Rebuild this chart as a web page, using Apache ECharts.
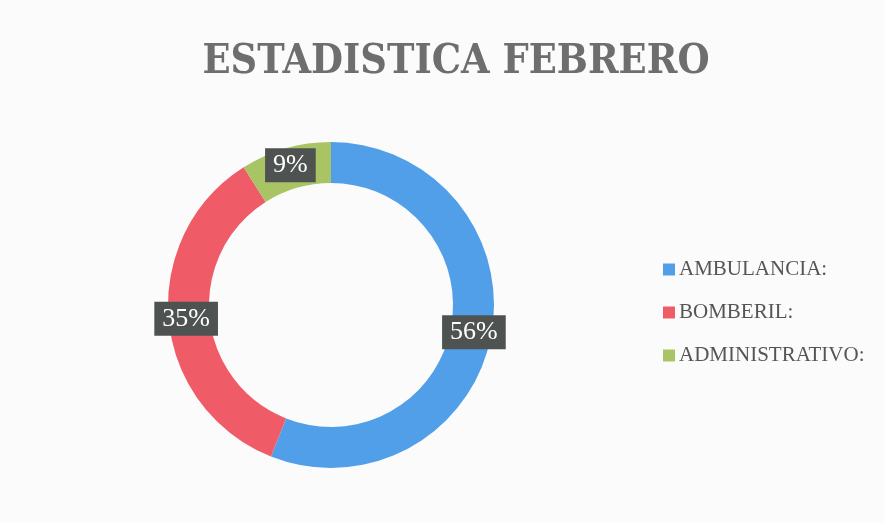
<!DOCTYPE html>
<html>
<head>
<meta charset="utf-8">
<script src="https://cdn.jsdelivr.net/npm/echarts@6/dist/echarts.min.js"></script>
<style>
  html, body { margin: 0; padding: 0; background: #fbfbfb; }
</style>
</head>
<body>
<div id="myChart" style="width:885px;height:523px;"></div>
<script>
// datos del grafico
var categories = ['AMBULANCIA:', 'BOMBERIL:', 'ADMINISTRATIVO:'];
var values = [56, 35, 9];
var colors = ['#519fe8', '#ef5c68', '#a9c464'];

var myChart = echarts.init(document.getElementById('myChart'));
myChart.setOption({
  backgroundColor: '#fbfbfb',
  color: colors,
  title: {
    text: 'ESTADISTICA FEBRERO',
    left: 451,
    top: 37,
    textAlign: 'center',
    textStyle: {
      color: '#6e6e6e',
      fontFamily: 'DejaVu Serif Condensed',
      fontWeight: 'bold',
      fontSize: 41
    }
  },
  legend: {
    orient: 'vertical',
    left: 658,
    top: 254,
    itemWidth: 12,
    itemHeight: 12,
    itemGap: 22,
    icon: 'rect',
    data: categories,
    textStyle: {
      color: '#555',
      fontFamily: 'Liberation Serif',
      fontSize: 21,
      padding: [0, 0, 0, -1]
    }
  },
  series: [{
    type: 'pie',
    center: [331, 305],
    radius: [122, 163],
    startAngle: 90,
    clockwise: true,
    avoidLabelOverlap: false,
    label: {
      show: true,
      position: 'inside',
      formatter: '{c}%',
      color: '#fff',
      fontFamily: 'Liberation Serif',
      fontSize: 26,
      backgroundColor: '#4e5351',
      padding: [5, 8, 3, 8]
    },
    labelLine: { show: false },
    data: categories.map(function (name, i) {
      return { name: name, value: values[i] };
    })
  }]
});
</script>
</body>
</html>
